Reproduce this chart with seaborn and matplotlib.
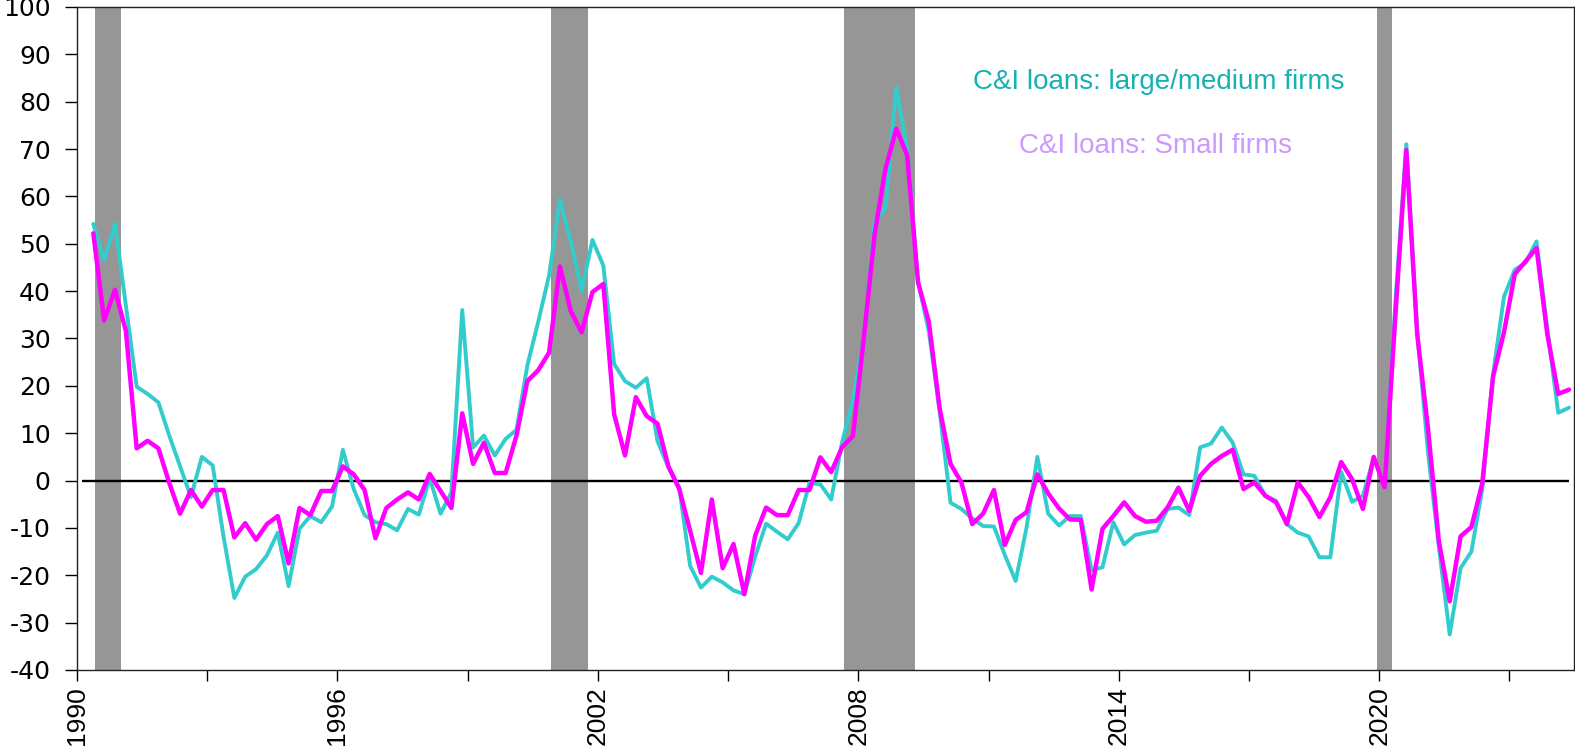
import numpy as np
import pandas as pd
import matplotlib
matplotlib.use("Agg")
import matplotlib.pyplot as plt
import seaborn as sns

# ── DATA ─────────────────────────────────────────────────────────────────────
# Net % of banks tightening standards on C&I loans, quarterly 1990Q2 - 2024Q2
quarters = pd.period_range("1990Q2", "2024Q2", freq="Q")

large_medium = [
    54.2, 46.5, 54.2,                 # 1990
    37.0, 19.8, 18.3, 16.5,           # 1991
    9.5, 3.0, -3.5, 5.0,              # 1992
    3.2, -11.8, -24.8, -20.3,         # 1993
    -18.7, -15.8, -11.0, -22.3,       # 1994
    -10.2, -7.5, -8.8, -5.5,          # 1995
    6.5, -1.8, -7.3, -8.8,            # 1996
    -9.2, -10.5, -6.0, -7.2,          # 1997
    0.5, -7.0, -2.5, 36.0,            # 1998
    7.0, 9.5, 5.3, 8.8,               # 1999
    10.7, 24.3, 33.5, 43.3,           # 2000
    59.3, 50.5, 40.0, 50.8,           # 2001
    45.4, 24.6, 21.0, 19.6,           # 2002
    21.6, 8.3, 2.8, -1.5,             # 2003
    -18.0, -22.6, -20.3, -21.5,       # 2004
    -23.2, -24.0, -16.0, -9.1,        # 2005
    -10.8, -12.4, -9.0, -0.5,         # 2006
    -0.8, -4.0, 8.0, 17.0,            # 2007
    30.0, 54.5, 57.5, 83.0,           # 2008
    70.0, 42.0, 31.5, 14.5,           # 2009
    -4.7, -6.0, -8.0, -9.6,           # 2010
    -9.7, -15.7, -21.2, -10.0,        # 2011
    5.0, -7.0, -9.5, -7.5,            # 2012
    -7.5, -19.0, -18.3, -8.8,         # 2013
    -13.5, -11.5, -11.0, -10.6,       # 2014
    -6.0, -5.7, -7.3, 7.0,            # 2015
    7.8, 11.2, 8.0, 1.3,              # 2016
    1.0, -3.2, -4.3, -9.2,            # 2017
    -11.0, -11.8, -16.2, -16.2,       # 2018
    1.8, -4.5, -3.2, 4.8,             # 2019
    -1.0, 38.0, 71.0, 31.5,           # 2020
    6.0, -14.0, -32.5, -18.5,         # 2021
    -15.0, -1.8, 22.5, 38.8,          # 2022
    44.5, 46.0, 50.5, 32.0,           # 2023
    14.3, 15.4,                       # 2024
]

small_firms = [
    52.2, 33.8, 40.3,                 # 1990
    31.6, 6.8, 8.4, 6.8,              # 1991
    -0.5, -7.0, -2.0, -5.5,           # 1992
    -2.0, -2.0, -12.0, -9.0,          # 1993
    -12.5, -9.2, -7.5, -17.5,         # 1994
    -5.8, -7.3, -2.2, -2.2,           # 1995
    3.0, 1.3, -2.0, -12.2,            # 1996
    -5.8, -4.0, -2.5, -4.0,           # 1997
    1.4, -2.2, -5.8, 14.2,            # 1998
    3.5, 8.0, 1.6, 1.6,               # 1999
    9.5, 21.0, 23.3, 27.0,            # 2000
    45.2, 35.8, 31.3, 39.8,           # 2001
    41.5, 14.0, 5.3, 17.6,            # 2002
    13.6, 12.0, 3.0, -1.8,            # 2003
    -10.6, -19.5, -4.0, -18.5,        # 2004
    -13.4, -24.0, -11.6, -5.7,        # 2005
    -7.3, -7.3, -2.0, -2.0,           # 2006
    4.9, 1.8, 7.0, 9.4,               # 2007
    30.0, 52.0, 65.8, 74.3,           # 2008
    68.7, 41.9, 33.5, 15.2,           # 2009
    3.5, -0.4, -9.2, -7.0,            # 2010
    -2.0, -13.6, -8.3, -6.7,          # 2011
    1.3, -2.7, -5.9, -8.2,            # 2012
    -8.3, -23.0, -10.2, -7.5,         # 2013
    -4.6, -7.5, -8.7, -8.5,           # 2014
    -5.7, -1.5, -6.4, 1.0,            # 2015
    3.5, 5.2, 6.5, -1.8,              # 2016
    -0.4, -3.2, -4.6, -9.2,           # 2017
    -0.4, -3.5, -7.7, -3.5,           # 2018
    3.9, 0.3, -6.0, 5.0,              # 2019
    -1.4, 35.0, 69.8, 31.0,           # 2020
    11.0, -12.8, -25.5, -11.8,        # 2021
    -9.8, -0.6, 22.0, 31.3,           # 2022
    43.6, 46.3, 49.1, 30.8,           # 2023
    18.3, 19.2,                       # 2024
]

# recession shading (start, end) in decimal years
recessions = [(1990.41, 1991.01), (2000.92, 2001.77), (2007.68, 2009.30), (2019.96, 2020.30)]

year_ticks = list(range(1990, 2024, 3))
year_labels = [str(y) if (y - 1990) % 6 == 0 else "" for y in year_ticks]
y_ticks = list(range(-40, 101, 10))

label_large = "C&I loans: large/medium firms"
label_small = "C&I loans: Small firms"

df = pd.DataFrame({
    "date": quarters.year + (quarters.quarter - 1) / 4 + 0.125,
    "large": large_medium,
    "small": small_firms,
})

# ── PLOT ─────────────────────────────────────────────────────────────────────
sns.set_style("ticks")
plt.rcParams["font.family"] = ["Liberation Sans", "DejaVu Sans"]

fig = plt.figure(figsize=(15.75, 7.48), dpi=100)
ax = fig.add_axes([0.0489, 0.1043, 0.9505, 0.8864])

for start, end in recessions:
    ax.axvspan(start, end, color="#969696", lw=0, zorder=1)

ax.hlines(0, df["date"].iloc[0] - 0.25, df["date"].iloc[-1],
          color="black", lw=1.7, zorder=2)

sns.lineplot(data=df, x="date", y="large", color="#33CCCC", lw=2.8, ax=ax, zorder=3)
sns.lineplot(data=df, x="date", y="small", color="#FF00FF", lw=3.2, ax=ax, zorder=4)

ax.set_xlim(1990, 2024.49)
ax.set_ylim(-40, 100)
ax.set_yticks(y_ticks)
ax.set_yticklabels([str(v) for v in y_ticks], fontsize=18, family="DejaVu Sans")
ax.set_xticks(year_ticks)
ax.set_xticklabels(year_labels, rotation=90, fontsize=19)
ax.tick_params(axis="y", direction="out", length=9, width=1, pad=10, colors="black")
ax.tick_params(axis="x", direction="out", length=8, width=1, pad=4, colors="black")
ax.set_xlabel("")
ax.set_ylabel("")

for side in ["left", "right", "top", "bottom"]:
    ax.spines[side].set_color("#222222")
    ax.spines[side].set_linewidth(1.0)

ax.text(0.7225, 0.887, label_large, transform=ax.transAxes, ha="center", va="center",
        fontsize=20, color="#17B0B3")
ax.text(0.7205, 0.790, label_small, transform=ax.transAxes, ha="center", va="center",
        fontsize=20, color="#CC99FF")

fig.savefig("out.png", dpi=100)
